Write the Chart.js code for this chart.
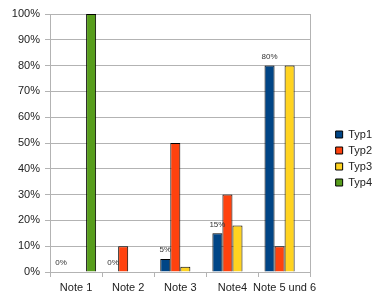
<!DOCTYPE html>
<html>
<head>
<meta charset="utf-8">
<script src="https://cdn.jsdelivr.net/npm/chart.js@4/dist/chart.umd.min.js"></script>
<style>
html,body{margin:0;padding:0;background:#fff;}
#wrap{width:390px;height:308px;}
</style>
</head>
<body>
<div id="wrap"><canvas id="c" width="390" height="308"></canvas></div>
<script>
const categories = ["Note 1", "Note 2", "Note 3", "Note4", "Note 5 und 6"];
const typ1 = [0, 0, 5, 15, 80];
const typ2 = [0, 10, 50, 30, 10];
const typ3 = [0, 0, 2, 18, 80];
const typ4 = [100, 0, 0, 0, 0];
const seriesNames = ["Typ1", "Typ2", "Typ3", "Typ4"];
const seriesColors = ["#004586", "#ff420e", "#ffd320", "#579d1c"];
const yTicks = [0, 10, 20, 30, 40, 50, 60, 70, 80, 90, 100];

const FONT = "'Liberation Sans', Arial, sans-serif";
const gridColor = "#b3b3b3";

const labelPlugin = {
  id: "typ1labels",
  afterDatasetsDraw(chart) {
    const ctx = chart.ctx;
    const meta = chart.getDatasetMeta(0);
    ctx.save();
    ctx.font = "8px " + FONT;
    ctx.fillStyle = "#333";
    ctx.textAlign = "center";
    ctx.textBaseline = "middle";
    meta.data.forEach((bar, i) => {
      ctx.fillText(typ1[i] + "%", bar.x, bar.y - 9);
    });
    ctx.restore();
  }
};

const bgPlugin = {
  id: "bg",
  beforeDraw(chart) {
    const ctx = chart.ctx;
    ctx.save();
    ctx.fillStyle = "#fff";
    ctx.fillRect(0, 0, chart.width, chart.height);
    ctx.restore();
  }
};

const data = [typ1, typ2, typ3, typ4];

new Chart(document.getElementById("c"), {
  type: "bar",
  data: {
    labels: categories,
    datasets: data.map((d, i) => ({
      label: seriesNames[i],
      data: d,
      backgroundColor: seriesColors[i],
      borderColor: "#000",
      borderWidth: 1,
      borderSkipped: "start",
      categoryPercentage: 0.77,
      barPercentage: 1.0
    }))
  },
  options: {
    responsive: false,
    animation: false,
    devicePixelRatio: 1,
    layout: { padding: { top: 14, right: 8, bottom: 5, left: 0 } },
    plugins: {
      tooltip: { enabled: false },
      legend: {
        position: "right",
        align: "center",
        labels: {
          boxWidth: 7,
          boxHeight: 7,
          padding: 5,
          color: "#222",
          font: { family: FONT, size: 11, lineHeight: 1.2 },
          generateLabels(chart) {
            return chart.data.datasets.map((ds, i) => ({
              text: ds.label,
              fillStyle: ds.backgroundColor,
              strokeStyle: "#000",
              lineWidth: 1,
              hidden: false,
              datasetIndex: i,
              fontColor: "#222"
            }));
          }
        }
      }
    },
    scales: {
      x: {
        offset: true,
        grid: { offset: true, drawOnChartArea: false, drawTicks: true, tickLength: 5, color: gridColor },
        border: { display: true, color: gridColor },
        ticks: { color: "#222", font: { family: FONT, size: 11 }, padding: 4, maxRotation: 0, autoSkip: false },
        afterFit(s) { s.height = 31; }
      },
      y: {
        min: 0,
        max: 100,
        afterBuildTicks(s) { s.ticks = yTicks.map(v => ({ value: v })); },
        grid: { color: gridColor, tickLength: 5 },
        border: { display: true, color: gridColor },
        ticks: { color: "#222", font: { family: FONT, size: 11 }, padding: 5, callback: v => v + "%" },
        afterFit(s) { s.width = 50; }
      },
      y2: {
        position: "right",
        min: 0,
        max: 100,
        grid: { drawOnChartArea: false, drawTicks: false },
        border: { display: true, color: gridColor },
        ticks: { display: false },
        afterFit(s) { s.width = 20; }
      }
    }
  },
  plugins: [bgPlugin, labelPlugin]
});
</script>
</body>
</html>
